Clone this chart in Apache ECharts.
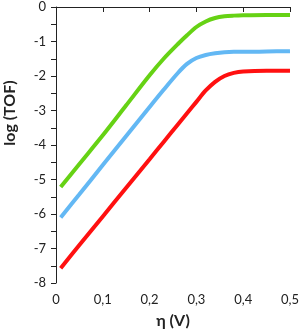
<!DOCTYPE html>
<html><head><meta charset="utf-8">
<script src="https://cdn.jsdelivr.net/npm/echarts@6/dist/echarts.min.js"></script>
<style>html,body{margin:0;padding:0;background:#fff}#c{width:302px;height:334px}</style>
</head><body><div id="c"></div>
<script>
const eta = [0.01, 0.05, 0.10, 0.15, 0.20, 0.23, 0.26, 0.28, 0.30, 0.32, 0.34, 0.36, 0.38, 0.40, 0.45, 0.50];
const greenLog = [-5.22, -4.55, -3.72, -2.85, -1.98, -1.50, -1.08, -0.82, -0.58, -0.42, -0.32, -0.27, -0.25, -0.24, -0.23, -0.23];
const blueLog  = [-6.10, -5.43, -4.58, -3.74, -2.90, -2.40, -1.92, -1.65, -1.48, -1.39, -1.34, -1.31, -1.30, -1.30, -1.29, -1.28];
const redLog   = [-7.57, -6.90, -6.07, -5.24, -4.41, -3.91, -3.41, -3.08, -2.75, -2.42, -2.17, -2.00, -1.91, -1.87, -1.85, -1.85];
const xTicks = [0, 0.1, 0.2, 0.3, 0.4, 0.5];
const yTicks = [0, -1, -2, -3, -4, -5, -6, -7, -8];

const pair = ys => eta.map((x, i) => [x, ys[i]]);
const font = 'Lato, "Open Sans", "Noto Sans", sans-serif';
const chart = echarts.init(document.getElementById('c'), null, {renderer: 'canvas'});
const mkLine = (data, color) => ({
  type: 'line', data, smooth: 0.3, showSymbol: false, symbol: 'none',
  lineStyle: {color, width: 4}, itemStyle: {color}
});
chart.setOption({
  animation: false,
  backgroundColor: '#fff',
  grid: {left: 56, right: 10.5, top: 7, bottom: 51, containLabel: false},
  xAxis: {
    type: 'value', min: xTicks[0], max: xTicks[xTicks.length - 1], interval: 0.1,
    name: 'η (V)', nameLocation: 'middle', nameGap: 30,
    nameTextStyle: {fontFamily: font, fontSize: 16, fontWeight: 'bold', color: '#222'},
    axisLine: {show: true, lineStyle: {color: '#222', width: 1}},
    axisTick: {show: true, inside: false, length: 5, lineStyle: {color: '#222'}},
    axisLabel: {fontFamily: font, fontSize: 13, color: '#222', margin: 10,
      formatter: v => String(Math.round(v * 10) / 10).replace('.', ',')},
    splitLine: {show: false}
  },
  yAxis: {
    type: 'value', min: yTicks[yTicks.length - 1], max: yTicks[0], interval: 1,
    axisLine: {show: true, lineStyle: {color: '#222', width: 1}},
    axisTick: {show: true, inside: false, length: 5, lineStyle: {color: '#222'}},
    minorTick: {show: true, splitNumber: 2, length: 5, lineStyle: {color: '#222'}},
    axisLabel: {fontFamily: font, fontSize: 13, color: '#222', margin: 10},
    splitLine: {show: false}
  },
  graphic: [{
    type: 'text', x: 10, y: 113, rotation: Math.PI / 2,
    style: {text: 'log (TOF)', fontFamily: font, fontSize: 16, fontWeight: 'bold',
      fill: '#222', align: 'center', verticalAlign: 'middle'}
  }],
  series: [
    mkLine(pair(greenLog), '#66d214'),
    mkLine(pair(blueLog), '#63b8f4'),
    mkLine(pair(redLog), '#ff1010')
  ]
});
</script></body></html>
